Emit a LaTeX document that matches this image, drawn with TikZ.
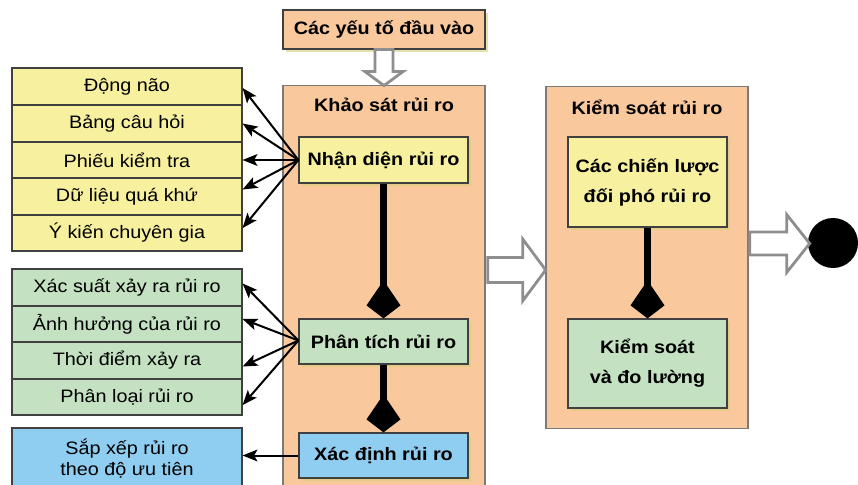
\documentclass[tikz,border=0pt]{standalone}
\usepackage{fontspec}
\setmainfont{Liberation Sans}[FakeStretch=1.1]
\usetikzlibrary{arrows.meta,calc,shadows}

\definecolor{peach}{HTML}{F9C89D}
\definecolor{lemon}{HTML}{F7F09E}
\definecolor{mint}{HTML}{C4E2C2}
\definecolor{sky}{HTML}{8FCDF1}
\definecolor{edge}{HTML}{404040}
\definecolor{frame}{HTML}{7A7A7A}
\definecolor{hollowgray}{HTML}{8E8E8E}
\definecolor{shade}{HTML}{D6CE78}

\tikzset{
  stagebox/.style={draw=frame, line width=1.3pt, fill=peach, inner sep=0pt},
  stagetitle/.style={font=\fontsize{18}{20}\selectfont\bfseries, inner sep=0pt},
  itembox/.style={draw=edge, line width=1.2pt, inner sep=0pt, align=center,
    font=\fontsize{18}{30}\selectfont\bfseries,
    drop shadow={shadow xshift=3pt, shadow yshift=-3pt, fill=shade, opacity=0.6}},
  listrow/.style={draw=edge, line width=1.2pt, minimum width=230pt,
    inner sep=0pt, align=center, font=\fontsize{18}{21}\selectfont},
  feeder/.style={line width=2pt, -{Stealth[length=15pt,width=12pt,inset=3.5pt,line width=0pt]}},
  flow/.style={line width=6.5pt, -{Kite[length=38pt,width=34pt,inset=25pt,line width=0pt]}},
  hollow/.style={draw=hollowgray, line width=2.8pt, fill=white, line join=miter}
}

\begin{document}
\begin{tikzpicture}[x=1pt, y=-1pt]
  \useasboundingbox (0,0) rectangle (858,484);
  \clip (0,0) rectangle (858,484);

  % stage frames
  \node[stagebox, minimum width=202pt, minimum height=415pt, anchor=north] (survey) at (384,85) {};
  \node[stagetitle] (surveytitle) at (384,105) {Khảo sát rủi ro};
  \node[stagebox, minimum width=202pt, minimum height=342pt, anchor=north] (control) at (647,86) {};
  \node[stagetitle] (controltitle) at (647,107) {Kiểm soát rủi ro};

  % input box
  \node[itembox, fill=peach, minimum width=202pt, minimum height=39pt] (input) at (384,29.5) {Các yếu tố đầu vào};

  % survey steps
  \node[itembox, fill=lemon, minimum width=169pt, minimum height=46pt] (identify) at (383.5,160) {Nhận diện rủi ro};
  \node[itembox, fill=mint, minimum width=169pt, minimum height=45pt] (analyze) at (383.5,341.5) {Phân tích rủi ro};
  \node[itembox, fill=sky, minimum width=169pt, minimum height=45pt] (determine) at (383.5,455.5) {Xác định rủi ro};

  % control steps
  \node[itembox, fill=lemon, minimum width=159pt, minimum height=90pt] (strategy) at (647.5,182) {Các chiến lược\\đối phó rủi ro};
  \node[itembox, fill=mint, minimum width=159pt, minimum height=89pt] (measure) at (647.5,363.5) {Kiểm soát\\và đo lường};

  % identification techniques
  \node[listrow, fill=lemon, minimum height=37pt] (y1) at (127,86.5) {Động não};
  \node[listrow, fill=lemon, minimum height=37pt] (y2) at (127,123.5) {Bảng câu hỏi};
  \node[listrow, fill=lemon, minimum height=36pt] (y3) at (127,160) {Phiếu kiểm tra};
  \node[listrow, fill=lemon, minimum height=37pt] (y4) at (127,196.5) {Dữ liệu quá khứ};
  \node[listrow, fill=lemon, minimum height=36pt] (y5) at (127,233) {Ý kiến chuyên gia};

  % analysis criteria
  \node[listrow, fill=mint, minimum height=37pt] (g1) at (127,287.5) {Xác suất xảy ra rủi ro};
  \node[listrow, fill=mint, minimum height=36pt] (g2) at (127,324) {Ảnh hưởng của rủi ro};
  \node[listrow, fill=mint, minimum height=37pt] (g3) at (127,360.5) {Thời điểm xảy ra};
  \node[listrow, fill=mint, minimum height=36pt] (g4) at (127,397) {Phân loại rủi ro};

  % ranking
  \node[listrow, fill=sky, minimum height=62pt, font=\fontsize{18}{21}\selectfont] (rank) at (127,459) {Sắp xếp rủi ro\\theo độ ưu tiên};

  % end marker
  \node[circle, fill=black, minimum size=50pt, inner sep=0pt] (finish) at (833,243) {};

  % thin connectors to the side lists
  \draw[feeder] (identify.west) -- ([yshift=-1.5pt]y1.east);
  \draw[feeder] (identify.west) -- (y2.east);
  \draw[feeder] (identify.west) -- (y3.east);
  \draw[feeder] (identify.west) -- ([yshift=7pt]y4.east);
  \draw[feeder] (identify.west) -- ([yshift=5pt]y5.east);
  \draw[feeder] ([yshift=1pt]analyze.west) -- ([yshift=4pt]g1.east);
  \draw[feeder] ([yshift=1pt]analyze.west) -- ([yshift=5pt]g2.east);
  \draw[feeder] ([yshift=1pt]analyze.west) -- ([yshift=-6pt]g3.east);
  \draw[feeder] ([yshift=1pt]analyze.west) -- ([yshift=-8pt]g4.east);
  \draw[feeder] (determine.west) -- (rank.east |- determine.west);

  % main flow
  \draw[flow] (identify.south) -- (analyze.north);
  \draw[flow] (analyze.south) -- (determine.north);
  \draw[flow] (strategy.south) -- (measure.north);

  % hollow block arrows
  \coordinate (inbase) at (input.south);
  \draw[hollow] ($(inbase)+(-9,0)$) -- ($(inbase)+(-9,22)$) -- ($(inbase)+(-19,22)$)
    -- ($(inbase)+(0,36)$) -- ($(inbase)+(19,22)$) -- ($(inbase)+(9,22)$)
    -- ($(inbase)+(9,0)$) -- cycle;

  \coordinate (midbase) at ($(survey.north east)+(2,185)$);
  \draw[hollow] ($(midbase)+(0,-12.5)$) -- ($(midbase)+(35,-12.5)$) -- ($(midbase)+(35,-31)$)
    -- ($(midbase)+(58,0)$) -- ($(midbase)+(35,31)$) -- ($(midbase)+(35,12.5)$)
    -- ($(midbase)+(0,12.5)$) -- cycle;

  \coordinate (outbase) at ($(control.north east)+(1,157.5)$);
  \draw[hollow] ($(outbase)+(0,-11.5)$) -- ($(outbase)+(37,-11.5)$) -- ($(outbase)+(37,-29)$)
    -- ($(outbase)+(60,0)$) -- ($(outbase)+(37,29)$) -- ($(outbase)+(37,11.5)$)
    -- ($(outbase)+(0,11.5)$) -- cycle;
\end{tikzpicture}
\end{document}
